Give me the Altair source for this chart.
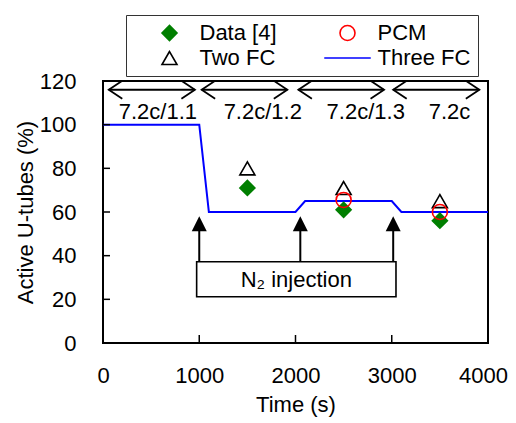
import altair as alt
import pandas as pd

FONT = "Liberation Sans"

# model curve (Three FC)
model_time = [0, 1000, 1100, 2000, 2100, 3000, 3100, 4000]
model_three_fc = [100, 100, 60, 60, 65, 65, 60, 60]

# discrete results
pt_time = [1500, 2500, 3500]
data4 = [71, 61, 56]
two_fc = [80, 71, 65]
pcm_time = [2500, 3500]
pcm = [65.5, 60]

# legend fills column by column: Data [4] / Two FC, then PCM / Three FC
series_order = ["Data [4]", "Two FC", "PCM", "Three FC"]

# flow-rate periods along the top
period_start = [60, 1025, 2030, 3015]
period_end = [955, 1915, 2920, 3910]
period_y = [116, 116, 116, 116]
period_label = ["7.2c/1.1", "7.2c/1.2", "7.2c/1.3", "7.2c"]
period_label_x = [570, 1660, 2730, 3600]
period_label_y = [105.8, 105.8, 105.8, 105.8]

# N2 injection annotation
inj_time = [1000, 2050, 3015]
inj_tip = [58, 58, 58]
inj_base = [37.2, 37.2, 37.2]
inj_shaft_top = [52, 52, 52]
box_x = [973]
box_x2 = [3044]
box_y = [21.2]
box_y2 = [37.2]
box_text_x = [2008]
box_text_y = [29]

y_ticks = [0, 20, 40, 60, 80, 100, 120]
x_ticks = [0, 1000, 2000, 3000, 4000]

model = pd.DataFrame({"t": model_time, "v": model_three_fc})
points = pd.DataFrame({
    "t": pt_time * 2 + pcm_time,
    "v": data4 + two_fc + pcm,
    "series": ["Data [4]"] * 3 + ["Two FC"] * 3 + ["PCM"] * 2,
})
periods = pd.DataFrame({"x": period_start, "x2": period_end, "y": period_y})
plabels = pd.DataFrame({"x": period_label_x, "y": period_label_y, "txt": period_label})
inj = pd.DataFrame({"x": inj_time, "tip": inj_tip, "base": inj_base, "top": inj_shaft_top})
box = pd.DataFrame({"x": box_x, "x2": box_x2, "y": box_y, "y2": box_y2})
boxtxt = pd.DataFrame({"x": box_text_x, "y": box_text_y, "txt": ["N\u2082 injection"]})
yt = pd.DataFrame({"v": y_ticks[1:-1]})
xt = pd.DataFrame({"v": x_ticks[1:-1]})

xscale = alt.Scale(domain=[0, 4000], nice=False, zero=False)
yscale = alt.Scale(domain=[0, 120], nice=False, zero=False)

X = alt.X("t:Q", scale=xscale, title="Time (s)",
          axis=alt.Axis(values=x_ticks, format="d", tickSize=0, domain=False,
                        grid=False, labelFlush=False, labelOverlap=False,
                        labelOffset={"condition": {"test": "datum.value == 4000", "value": -5},
                                     "value": 0},
                        labelPadding=22, titlePadding=8))
Y = alt.Y("v:Q", scale=yscale, title="Active U-tubes (%)",
          axis=alt.Axis(values=y_ticks, tickSize=0, domain=False, grid=False,
                        labelFlush=False, labelOverlap=False,
                        labelPadding=27, titlePadding=2))

line = alt.Chart(model).mark_line(color="#0000ff", strokeWidth=2).encode(x=X, y=Y)

legend = alt.Legend(title=None, orient="none", legendX=23, legendY=-66, columns=2,
                    strokeColor="#333333", fillColor="white", padding=7,
                    symbolSize=225, symbolStrokeWidth=1.6, symbolOffset=25.5,
                    labelOffset=19, columnPadding=34, rowPadding=3,
                    labelFont=FONT, labelFontSize=22, labelColor="black")

pts = alt.Chart(points).mark_point(size=225, strokeWidth=1.6, opacity=1).encode(
    x=alt.X("t:Q", scale=xscale),
    y=alt.Y("v:Q", scale=yscale),
    shape=alt.Shape("series:N", legend=legend, scale=alt.Scale(
        domain=series_order,
        range=["diamond", "triangle-up", "circle", "M-3.1,0L3.1,0"])),
    stroke=alt.Stroke("series:N", legend=legend, scale=alt.Scale(
        domain=series_order, range=["#007f00", "black", "#ff0000", "#0000ff"])),
    fill=alt.Fill("series:N", legend=legend, scale=alt.Scale(
        domain=series_order,
        range=["#007f00", "transparent", "transparent", "transparent"])),
)

shafts = alt.Chart(periods).mark_rule(color="black", strokeWidth=1.8).encode(
    x=alt.X("x:Q", scale=xscale), x2="x2:Q", y=alt.Y("y:Q", scale=yscale))
left_heads = alt.Chart(periods).mark_point(
    shape="M1.5,-1L0,0L1.5,1", size=324, filled=False, color="black",
    strokeWidth=1.8, opacity=1).encode(
    x=alt.X("x:Q", scale=xscale), y=alt.Y("y:Q", scale=yscale))
right_heads = alt.Chart(periods).mark_point(
    shape="M-1.5,-1L0,0L-1.5,1", size=324, filled=False, color="black",
    strokeWidth=1.8, opacity=1).encode(
    x=alt.X("x2:Q", scale=xscale), y=alt.Y("y:Q", scale=yscale))
period_text = alt.Chart(plabels).mark_text(
    font=FONT, fontSize=22, color="black", baseline="middle").encode(
    x=alt.X("x:Q", scale=xscale), y=alt.Y("y:Q", scale=yscale), text="txt:N")

inj_shafts = alt.Chart(inj).mark_rule(color="black", strokeWidth=2).encode(
    x=alt.X("x:Q", scale=xscale), y=alt.Y("base:Q", scale=yscale), y2="top:Q")
inj_heads = alt.Chart(inj).mark_point(
    shape="M0,0L-1,2L1,2Z", size=225, filled=True, color="black", opacity=1).encode(
    x=alt.X("x:Q", scale=xscale), y=alt.Y("tip:Q", scale=yscale))
inj_box = alt.Chart(box).mark_rect(fill="white", stroke="black", strokeWidth=1.6).encode(
    x=alt.X("x:Q", scale=xscale), x2="x2:Q",
    y=alt.Y("y:Q", scale=yscale), y2="y2:Q")
inj_text = alt.Chart(boxtxt).mark_text(
    font=FONT, fontSize=22, color="black", baseline="middle").encode(
    x=alt.X("x:Q", scale=xscale), y=alt.Y("y:Q", scale=yscale), text="txt:N")

ytick_marks = alt.Chart(yt).mark_rule(color="black", strokeWidth=1.5).encode(
    y=alt.Y("v:Q", scale=yscale), x=alt.value(0), x2=alt.value(7))
xtick_marks = alt.Chart(xt).mark_rule(color="black", strokeWidth=1.5).encode(
    x=alt.X("v:Q", scale=xscale), y=alt.value(262), y2=alt.value(254))

chart = alt.layer(
    line, ytick_marks, xtick_marks, shafts, left_heads, right_heads, period_text,
    inj_shafts, inj_heads, inj_box, inj_text, pts
).properties(
    width=385, height=262,
    autosize=alt.AutoSizeParams(type="none"),
    padding={"left": 95, "top": 73, "right": 20, "bottom": 78},
).configure_view(
    stroke="black", strokeWidth=2
).configure_axis(
    labelFont=FONT, labelFontSize=22, labelColor="black",
    titleFont=FONT, titleFontSize=22, titleColor="black", titleFontWeight="normal"
)

chart.save("out.html", embed_options={"renderer": "svg", "actions": False})
